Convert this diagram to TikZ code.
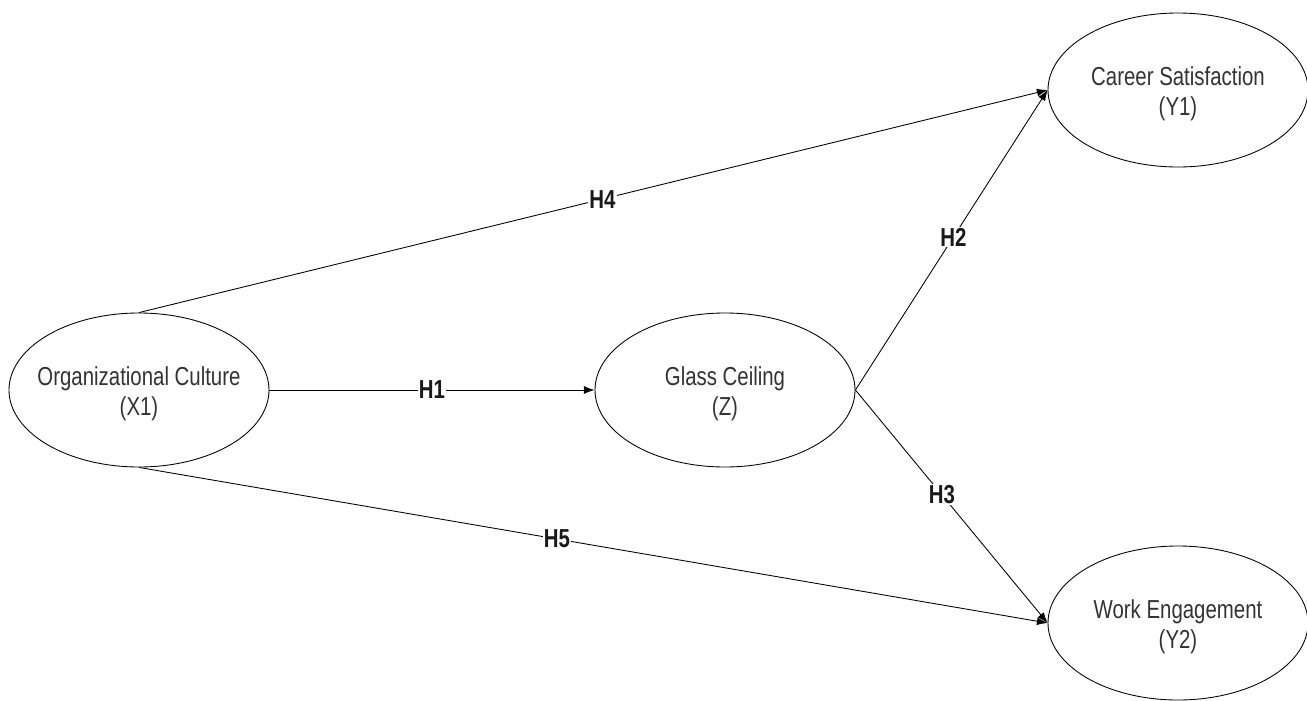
\documentclass[tikz,border=0pt]{standalone}
\usepackage{fontspec}
\setmainfont[FakeStretch=0.785]{Liberation Sans}
\usetikzlibrary{arrows.meta,shapes.geometric}
\begin{document}
\begin{tikzpicture}[x=0.75pt,y=-0.75pt,
  latent/.style={draw, ellipse, line width=0.65pt, inner sep=0pt,
    minimum width=195pt, minimum height=115.5pt},
  lvtext/.style={align=center, inner sep=0pt, yshift=-3pt,
    font=\fontsize{19.5}{22.5}\selectfont, text=black!80},
  path/.style={line width=0.65pt, -{Latex[length=8pt,width=6pt]}},
  hlab/.style={fill=white, inner sep=1pt, font=\fontsize{19.5}{22}\selectfont\bfseries, text=black!90}]
\useasboundingbox (0,0) rectangle (1307,700);
\node[latent] (oc) at (139,390) {};
\node[latent] (gc) at (725,390) {};
\node[latent] (cs) at (1178,90) {};
\node[latent] (we) at (1178,623) {};
\node[lvtext] (toc) at (oc.center) {Organizational Culture\\(X1)};
\node[lvtext] (tgc) at (gc.center) {Glass Ceiling\\(Z)};
\node[lvtext] (tcs) at (cs.center) {Career Satisfaction\\(Y1)};
\node[lvtext] (twe) at (we.center) {Work Engagement\\(Y2)};
\draw[path] (oc.north) -- node[hlab, pos=0.51] {H4} (cs.west);
\draw[path] (oc.east) -- node[hlab, pos=0.5] {H1} (gc.west);
\draw[path] (oc.south) -- node[hlab, pos=0.46] {H5} (we.west);
\draw[path] (gc.east) -- node[hlab, pos=0.51] {H2} (cs.west);
\draw[path] (gc.east) -- node[hlab, pos=0.45] {H3} (we.west);
\end{tikzpicture}
\end{document}
